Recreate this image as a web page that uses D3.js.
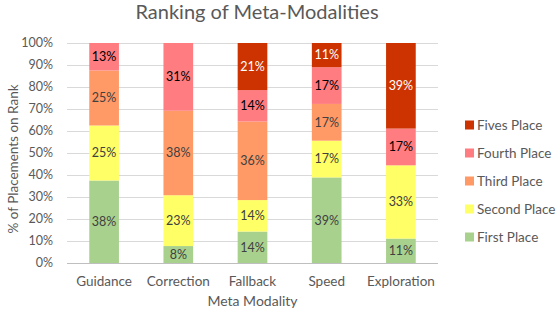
<!DOCTYPE html>
<html lang="en">
<head>
    <meta charset="UTF-8">
    <title>Ranking of Meta-Modalities</title>
    <script src="https://d3js.org/d3.v7.min.js"></script>
    <style>
        body { margin: 0; background: #fff; }
        text { font-family: Lato, "Open Sans", sans-serif; }
    </style>
</head>
<body>
    <svg></svg>
    <script>
        const categories = ["Guidance", "Correction", "Fallback", "Speed", "Exploration"];
        const seriesNames = ["First Place", "Second Place", "Third Place", "Fourth Place", "Fives Place"];
        // share of placements (%), labels are the rounded values
        const firstPlace  = [37.5, 7.7, 14.3, 38.9, 11.1];
        const secondPlace = [25, 23.1, 14.3, 16.7, 33.3];
        const thirdPlace  = [25, 38.4, 35.7, 16.7, 0];
        const fourthPlace = [12.5, 30.8, 14.3, 16.7, 16.7];
        const fivesPlace  = [0, 0, 21.4, 11.0, 38.9];
        const yTicks = [0, 10, 20, 30, 40, 50, 60, 70, 80, 90, 100];

        const colors = ["#a9d18e", "#ffff66", "#ff9966", "#ff7c80", "#cc3300"];
        const labelColors = ["#404040", "#404040", "#404040", "#000", "#fff"];

        const svgWidth = 556;
        const svgHeight = 316;
        const margin = { top: 43, right: 118, bottom: 53, left: 67 };
        const plotW = svgWidth - margin.left - margin.right;
        const plotH = svgHeight - margin.top - margin.bottom;

        const rows = categories.map((c, i) => ({
            cat: c,
            "First Place": firstPlace[i],
            "Second Place": secondPlace[i],
            "Third Place": thirdPlace[i],
            "Fourth Place": fourthPlace[i],
            "Fives Place": fivesPlace[i]
        }));

        const stacked = d3.stack().keys(seriesNames)(rows);

        const svg = d3.select("svg")
            .attr("width", svgWidth)
            .attr("height", svgHeight);

        const x = d3.scaleBand()
            .domain(categories)
            .range([0, plotW])
            .paddingInner(0.6)
            .paddingOuter(0.3);

        const y = d3.scaleLinear()
            .domain([0, 100])
            .range([plotH, 0])
            .clamp(true);

        const g = svg.append("g")
            .attr("transform", `translate(${margin.left},${margin.top})`);

        // gridlines
        g.append("g")
            .selectAll("line")
            .data(yTicks)
            .enter()
            .append("line")
            .attr("x1", 0)
            .attr("x2", plotW)
            .attr("y1", d => y(d) + 0.5)
            .attr("y2", d => y(d) + 0.5)
            .attr("stroke", d => d === 0 ? "#bfbfbf" : "#d9d9d9")
            .attr("stroke-width", 1);

        // y tick labels
        g.append("g")
            .selectAll("text")
            .data(yTicks)
            .enter()
            .append("text")
            .attr("x", -14)
            .attr("y", d => y(d))
            .attr("dy", "0.35em")
            .attr("text-anchor", "end")
            .attr("font-size", 12.5)
            .attr("fill", "#595959")
            .text(d => d + "%");

        // bars
        const layers = g.selectAll(".layer")
            .data(stacked)
            .enter()
            .append("g")
            .attr("fill", (d, i) => colors[i]);

        layers.selectAll("rect")
            .data(d => d.filter(s => s[1] - s[0] > 0))
            .enter()
            .append("rect")
            .attr("x", d => x(d.data.cat))
            .attr("y", d => y(d[1]))
            .attr("width", x.bandwidth())
            .attr("height", d => y(d[0]) - y(d[1]));

        // data labels
        stacked.forEach((layer, i) => {
            g.append("g")
                .selectAll("text")
                .data(layer.filter(s => s[1] - s[0] > 0))
                .enter()
                .append("text")
                .attr("x", d => x(d.data.cat) + x.bandwidth() / 2)
                .attr("y", d => y((d[0] + d[1]) / 2))
                .attr("dy", "0.35em")
                .attr("text-anchor", "middle")
                .attr("font-size", 12.5)
                .attr("fill", labelColors[i])
                .text(d => Math.round(d[1] - d[0]) + "%");
        });

        // x labels
        g.append("g")
            .selectAll("text")
            .data(categories)
            .enter()
            .append("text")
            .attr("x", d => x(d) + x.bandwidth() / 2)
            .attr("y", plotH + 18)
            .attr("dy", "0.35em")
            .attr("text-anchor", "middle")
            .attr("font-size", 13.5)
            .attr("fill", "#595959")
            .text(d => d);

        // titles
        svg.append("text")
            .attr("x", 257)
            .attr("y", 19)
            .attr("text-anchor", "middle")
            .attr("font-size", 20)
            .attr("fill", "#595959")
            .text("Ranking of Meta-Modalities");

        svg.append("text")
            .attr("x", margin.left + plotW / 2)
            .attr("y", 306)
            .attr("text-anchor", "middle")
            .attr("font-size", 14)
            .attr("fill", "#595959")
            .text("Meta Modality");

        svg.append("text")
            .attr("transform", `translate(18,159) rotate(-90)`)
            .attr("text-anchor", "middle")
            .attr("font-size", 13.5)
            .attr("fill", "#595959")
            .text("% of Placements on Rank");

        // legend
        const legend = svg.append("g")
            .selectAll("g")
            .data(seriesNames.slice().reverse())
            .enter()
            .append("g")
            .attr("transform", (d, i) => `translate(465,${125 + i * 28})`);

        legend.append("rect")
            .attr("x", 0)
            .attr("y", -4.5)
            .attr("width", 9)
            .attr("height", 9)
            .attr("fill", d => colors[seriesNames.indexOf(d)]);

        legend.append("text")
            .attr("x", 12)
            .attr("y", 0)
            .attr("dy", "0.35em")
            .attr("font-size", 13.5)
            .attr("fill", "#595959")
            .text(d => d);
    </script>
</body>
</html>
